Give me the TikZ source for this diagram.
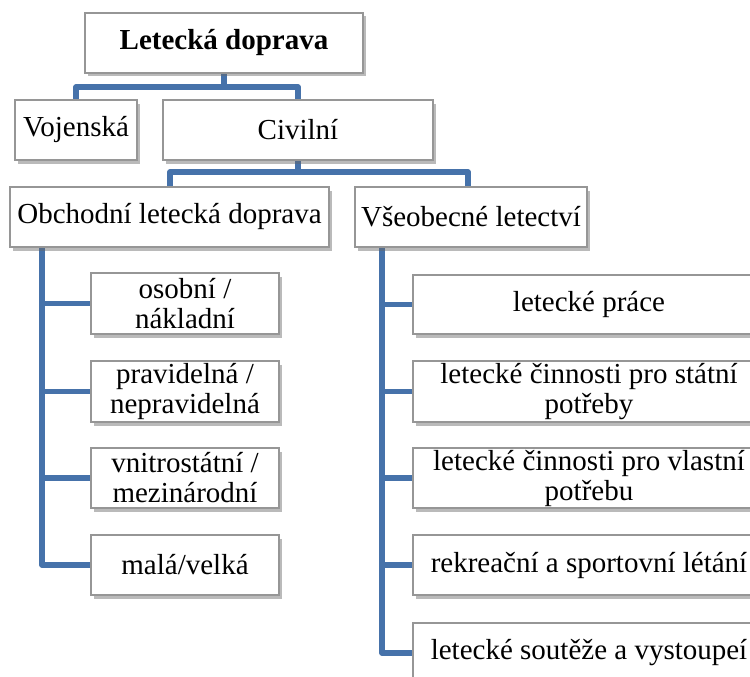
\documentclass[tikz,border=0pt]{standalone}
\usepackage{fontspec}
\setmainfont{Liberation Serif}
\usetikzlibrary{shadows,calc}
\definecolor{connblue}{RGB}{70,114,170}
\definecolor{boxgray}{RGB}{150,150,150}
\tikzset{
  box/.style={draw=boxgray, line width=1.1pt, fill=white, rectangle,
    minimum height=60pt, inner sep=0pt, align=center,
    font=\fontsize{29}{30}\selectfont,
    drop shadow={shadow xshift=2.5pt, shadow yshift=-3.5pt, opacity=0.45, fill=black!60}},
  conn/.style={draw=connblue, line width=5.5pt, line join=round, line cap=round}
}
\begin{document}
\begin{tikzpicture}[x=1pt,y=-1pt]
\useasboundingbox (0,0) rectangle (750,677);
\clip (0,0) rectangle (750,677);
% coordinates for connector junctions
\coordinate (j1) at (224,87);
\coordinate (j2) at (298,172);
\coordinate (sL) at (42,247);
\coordinate (sR) at (382,247);
% connectors (drawn first, behind boxes)
\draw[conn] (224,73) -- (j1) -| (76,100);
\draw[conn] (j1) -| (298,100);
\draw[conn] (298,160) -- (j2) -| (170,187);
\draw[conn] (j2) -| (468,187);
\draw[conn] (sL) |- (91,565);
\draw[conn] (sL) |- (91,303.5);
\draw[conn] (sL) |- (91,391.5);
\draw[conn] (sL) |- (91,478);
\draw[conn] (sR) |- (413,653);
\draw[conn] (sR) |- (413,304.5);
\draw[conn] (sR) |- (413,391.5);
\draw[conn] (sR) |- (413,478);
\draw[conn] (sR) |- (413,565);
% boxes
\node[box, minimum width=278pt, font=\fontsize{29}{30}\selectfont\bfseries] (top) at (224,43) {Letecká doprava};
\node[box, minimum width=122pt] (voj) at (76,130) {Vojenská};
\node[box, minimum width=270pt] (civ) at (298,130) {Civilní};
\node[box, minimum width=319pt] (obc) at (169.5,217) {Obchodní letecká doprava};
\node[box, minimum width=232pt] (vse) at (471,217) {Všeobecné letectví};
% left children
\node[box, minimum width=188pt, minimum height=61pt] (l1) at (185,303.5) {osobní /\\nákladní};
\node[box, minimum width=188pt, minimum height=61pt] (l2) at (185,391.5) {pravidelná /\\nepravidelná};
\node[box, minimum width=188pt, minimum height=60pt] (l3) at (185,478) {vnitrostátní /\\mezinárodní};
\node[box, minimum width=188pt, minimum height=60pt] (l4) at (185,565) {malá/velká};
% right children
\node[box, minimum width=352pt, minimum height=59pt] (r1) at (589,304.5) {letecké práce};
\node[box, minimum width=352pt, minimum height=61pt] (r2) at (589,391.5) {letecké činnosti pro státní\\potřeby};
\node[box, minimum width=352pt, minimum height=60pt] (r3) at (589,478) {letecké činnosti pro vlastní\\potřebu};
\node[box, minimum width=352pt, minimum height=60pt] (r4) at (589,565) {rekreační a sportovní létání};
\node[box, minimum width=352pt, minimum height=60pt] (r5) at (589,653) {letecké soutěže a vystoupeí};
\end{tikzpicture}
\end{document}
